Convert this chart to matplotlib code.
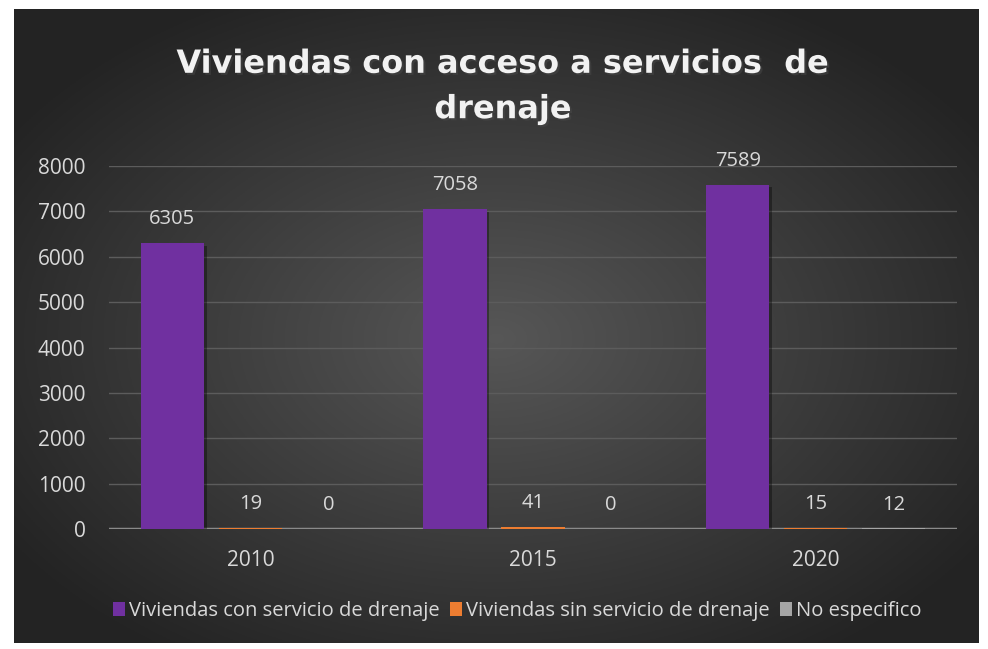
import numpy as np
import matplotlib.pyplot as plt
import matplotlib.patheffects as pe

# Data
years = ["2010", "2015", "2020"]
con_drenaje = [6305, 7058, 7589]
sin_drenaje = [19, 41, 15]
no_especifico = [0, 0, 12]
series_names = ["Viviendas con servicio de drenaje",
                "Viviendas sin servicio de drenaje",
                "No especifico"]
colors = ["#7030A0", "#ED7D31", "#A5A5A5"]

W, H = 988, 649
fig = plt.figure(figsize=(W / 100, H / 100), dpi=100, facecolor="white")

# Dark radial gradient background panel
bg = fig.add_axes([14 / W, 1 - 643 / H, (978 - 14) / W, (643 - 9) / H])
yy, xx = np.mgrid[0:1:300j, 0:1:450j]
r = np.sqrt(((xx - 0.5) / 0.75) ** 2 + ((yy - 0.52) / 0.75) ** 2)
shade = np.clip(0.34 - 0.25 * r, 0.14, 0.34)
bg.imshow(np.dstack([shade] * 3), aspect="auto", extent=[0, 1, 0, 1])
bg.set_axis_off()

ax = fig.add_axes([109 / W, 1 - 529 / H, (957 - 109) / W, (529 - 166) / H])
ax.patch.set_alpha(0)

x = np.arange(len(years))
width = 0.223
offset = 0.276
all_series = [con_drenaje, sin_drenaje, no_especifico]

ax.axhline(0, color="#8a8a8a", lw=2.5, zorder=2)
shadow = [pe.SimplePatchShadow(offset=(2, -2), shadow_rgbFace="black", alpha=0.35), pe.Normal()]
for i, (vals, name, c) in enumerate(zip(all_series, series_names, colors)):
    bars = ax.bar(x + (i - 1) * offset, vals, width, color=c, label=name, zorder=3)
    for b in bars:
        b.set_path_effects(shadow)
    for xi, v in zip(x + (i - 1) * offset, vals):
        ax.annotate(str(v), (xi, v), xytext=(0, 10), textcoords="offset points",
                    ha="center", va="bottom", color="#d9d9d9", fontsize=14.5,
                    family="Open Sans")

ax.set_xlim(-0.5, 2.5)
ax.set_ylim(0, 8000)
ax.set_yticks(np.arange(0, 8001, 1000))
ax.set_xticks(x)
ax.set_xticklabels(years)
ax.grid(axis="y", color="#5c5c5c", lw=1, zorder=0)
ax.set_axisbelow(True)
for s in ax.spines.values():
    s.set_visible(False)
ax.tick_params(length=0, colors="#d9d9d9", labelsize=15)
ax.tick_params(axis="x", pad=15)
ax.tick_params(axis="y", pad=17)
for lab in ax.get_xticklabels() + ax.get_yticklabels():
    lab.set_family("Open Sans")

leg = fig.legend(loc="center", bbox_to_anchor=(517 / W, 1 - 611 / H), ncol=3,
                 frameon=False, labelcolor="#d9d9d9",
                 handlelength=0.6, handleheight=0.7, handletextpad=0.2,
                 columnspacing=0.5, prop={"family": "Open Sans", "size": 14.5})
for h in leg.legend_handles:
    h.set_path_effects([])

fig.text(503 / W, 1 - 87 / H, "Viviendas con acceso a servicios  de\ndrenaje",
         ha="center", va="center", fontsize=23, fontweight="bold",
         color="#f2f2f2", family="DejaVu Sans", linespacing=1.6,
         path_effects=[pe.withSimplePatchShadow(offset=(1.5, -1.5), alpha=0.5)])

fig.savefig("out.png", dpi=100)
